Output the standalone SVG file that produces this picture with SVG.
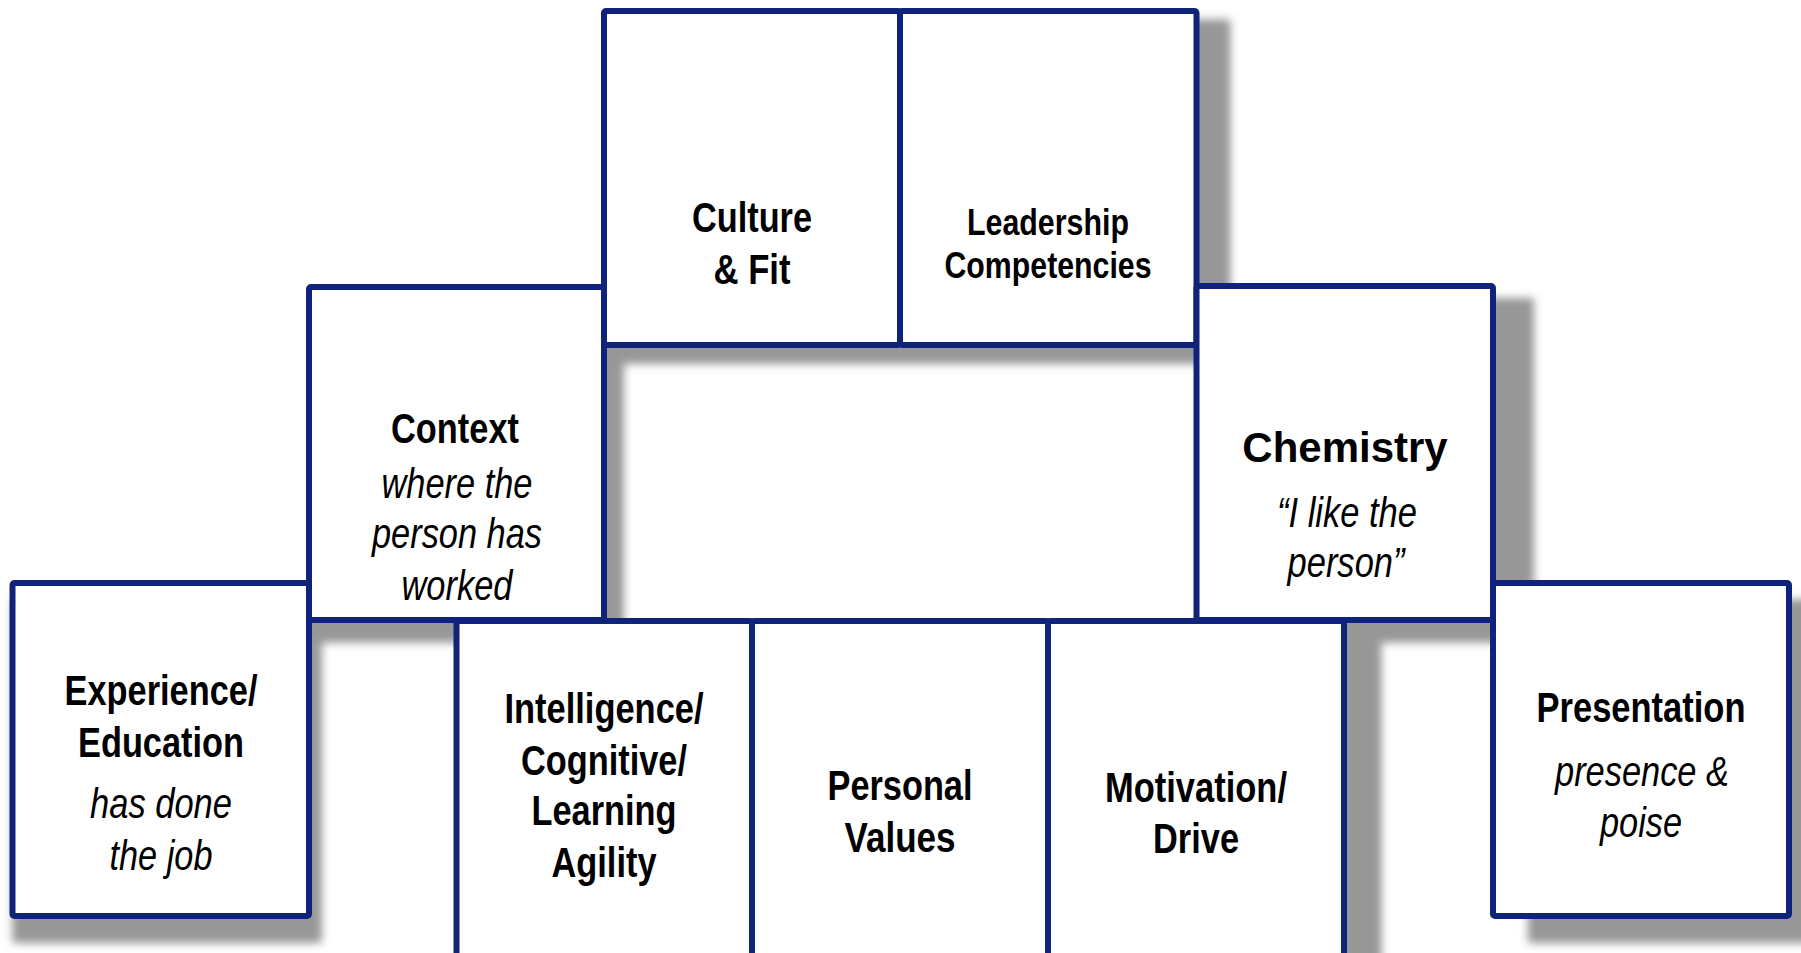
<svg xmlns="http://www.w3.org/2000/svg" xmlns:xlink="http://www.w3.org/1999/xlink" width="1801" height="953" viewBox="0 0 1801 953">
  <defs>
    <style>
      .box { fill: #ffffff; stroke: #10237a; stroke-width: 6; stroke-linejoin: round; }
      .hd { font-family: "Liberation Sans Narrow", "Liberation Sans", Arial, sans-serif; font-weight: bold; font-size: 42px; text-anchor: middle; fill: #000000; }
      .hs { font-size: 37px; }
      .it { font-family: "Liberation Sans Narrow", "Liberation Sans", Arial, sans-serif; font-style: italic; font-size: 42px; text-anchor: middle; fill: #000000; }
      .wide { font-family: "Liberation Sans", Arial, sans-serif; font-weight: bold; font-size: 42px; text-anchor: middle; fill: #000000; }
    </style>
    <filter id="soft" x="-5%" y="-5%" width="110%" height="110%">
      <feGaussianBlur stdDeviation="4"/>
    </filter>
    <!-- outer outline of the whole block arrangement, used for the group shadow -->
    <g id="silhouette">
      <rect x="601" y="8" width="598.5" height="340" rx="3"/>
      <rect x="306" y="284" width="301" height="339" rx="3"/>
      <rect x="1193.5" y="283" width="302.5" height="340" rx="3"/>
      <rect x="9.5" y="580" width="302.5" height="339" rx="3"/>
      <rect x="1490" y="580" width="302" height="339" rx="3"/>
      <rect x="453.5" y="618" width="893.5" height="400" rx="3"/>
    </g>
  </defs>

  <rect width="1801" height="953" fill="#ffffff"/>

  <!-- shared drop shadow, slightly enlarged toward the lower right -->
  <g id="shadow" filter="url(#soft)" fill="#979797">
    <use xlink:href="#silhouette" transform="matrix(1.0237 0 0 1.014 2.56 11.09)"/>
  </g>

  <g id="connectors"></g>

  <g id="experience">
    <rect class="box" x="12.5" y="583" width="296.5" height="333" rx="2"/>
    <text class="hd" x="161" y="705" textLength="193" lengthAdjust="spacingAndGlyphs">Experience/</text>
    <text class="hd" x="161" y="757" textLength="166" lengthAdjust="spacingAndGlyphs">Education</text>
    <text class="it" x="161" y="818" textLength="142" lengthAdjust="spacingAndGlyphs">has done</text>
    <text class="it" x="161" y="870" textLength="103" lengthAdjust="spacingAndGlyphs">the job</text>
  </g>

  <g id="context">
    <rect class="box" x="309" y="287" width="295" height="333" rx="2"/>
    <text class="hd" x="455" y="443" textLength="128" lengthAdjust="spacingAndGlyphs">Context</text>
    <text class="it" x="457" y="498" textLength="151" lengthAdjust="spacingAndGlyphs">where the</text>
    <text class="it" x="457" y="548" textLength="170" lengthAdjust="spacingAndGlyphs">person has</text>
    <text class="it" x="457" y="600" textLength="111" lengthAdjust="spacingAndGlyphs">worked</text>
  </g>

  <g id="culture">
    <rect class="box" x="604" y="11" width="296" height="334" rx="2"/>
    <text class="hd" x="752" y="232" textLength="120" lengthAdjust="spacingAndGlyphs">Culture</text>
    <text class="hd" x="752" y="284" textLength="77" lengthAdjust="spacingAndGlyphs">&amp; Fit</text>
  </g>

  <g id="leadership">
    <rect class="box" x="900" y="11" width="296.5" height="334" rx="2"/>
    <text class="hd hs" x="1048" y="235" textLength="162" lengthAdjust="spacingAndGlyphs">Leadership</text>
    <text class="hd hs" x="1048" y="278" textLength="207" lengthAdjust="spacingAndGlyphs">Competencies</text>
  </g>

  <g id="chemistry">
    <rect class="box" x="1196.5" y="286" width="296.5" height="334" rx="2"/>
    <text class="wide" x="1345" y="462">Chemistry</text>
    <text class="it" x="1347" y="527" textLength="140" lengthAdjust="spacingAndGlyphs">“I like the</text>
    <text class="it" x="1346" y="577" textLength="117" lengthAdjust="spacingAndGlyphs">person”</text>
  </g>

  <g id="presentation">
    <rect class="box" x="1493" y="583" width="296" height="333" rx="2"/>
    <text class="hd" x="1641" y="722" textLength="209" lengthAdjust="spacingAndGlyphs">Presentation</text>
    <text class="it" x="1642" y="786" textLength="174" lengthAdjust="spacingAndGlyphs">presence &amp;</text>
    <text class="it" x="1641" y="837" textLength="82" lengthAdjust="spacingAndGlyphs">poise</text>
  </g>

  <g id="intelligence">
    <rect class="box" x="456.5" y="621" width="295.5" height="390" rx="2"/>
    <text class="hd" x="604" y="723" textLength="199" lengthAdjust="spacingAndGlyphs">Intelligence/</text>
    <text class="hd" x="604" y="775" textLength="166" lengthAdjust="spacingAndGlyphs">Cognitive/</text>
    <text class="hd" x="604" y="825" textLength="145" lengthAdjust="spacingAndGlyphs">Learning</text>
    <text class="hd" x="604" y="877" textLength="105" lengthAdjust="spacingAndGlyphs">Agility</text>
  </g>

  <g id="personal-values">
    <rect class="box" x="752" y="621" width="296" height="390" rx="2"/>
    <text class="hd" x="900" y="800" textLength="145" lengthAdjust="spacingAndGlyphs">Personal</text>
    <text class="hd" x="900" y="852" textLength="111" lengthAdjust="spacingAndGlyphs">Values</text>
  </g>

  <g id="motivation">
    <rect class="box" x="1048" y="621" width="296" height="390" rx="2"/>
    <text class="hd" x="1196" y="802" textLength="182" lengthAdjust="spacingAndGlyphs">Motivation/</text>
    <text class="hd" x="1196" y="853" textLength="86" lengthAdjust="spacingAndGlyphs">Drive</text>
  </g>
</svg>
